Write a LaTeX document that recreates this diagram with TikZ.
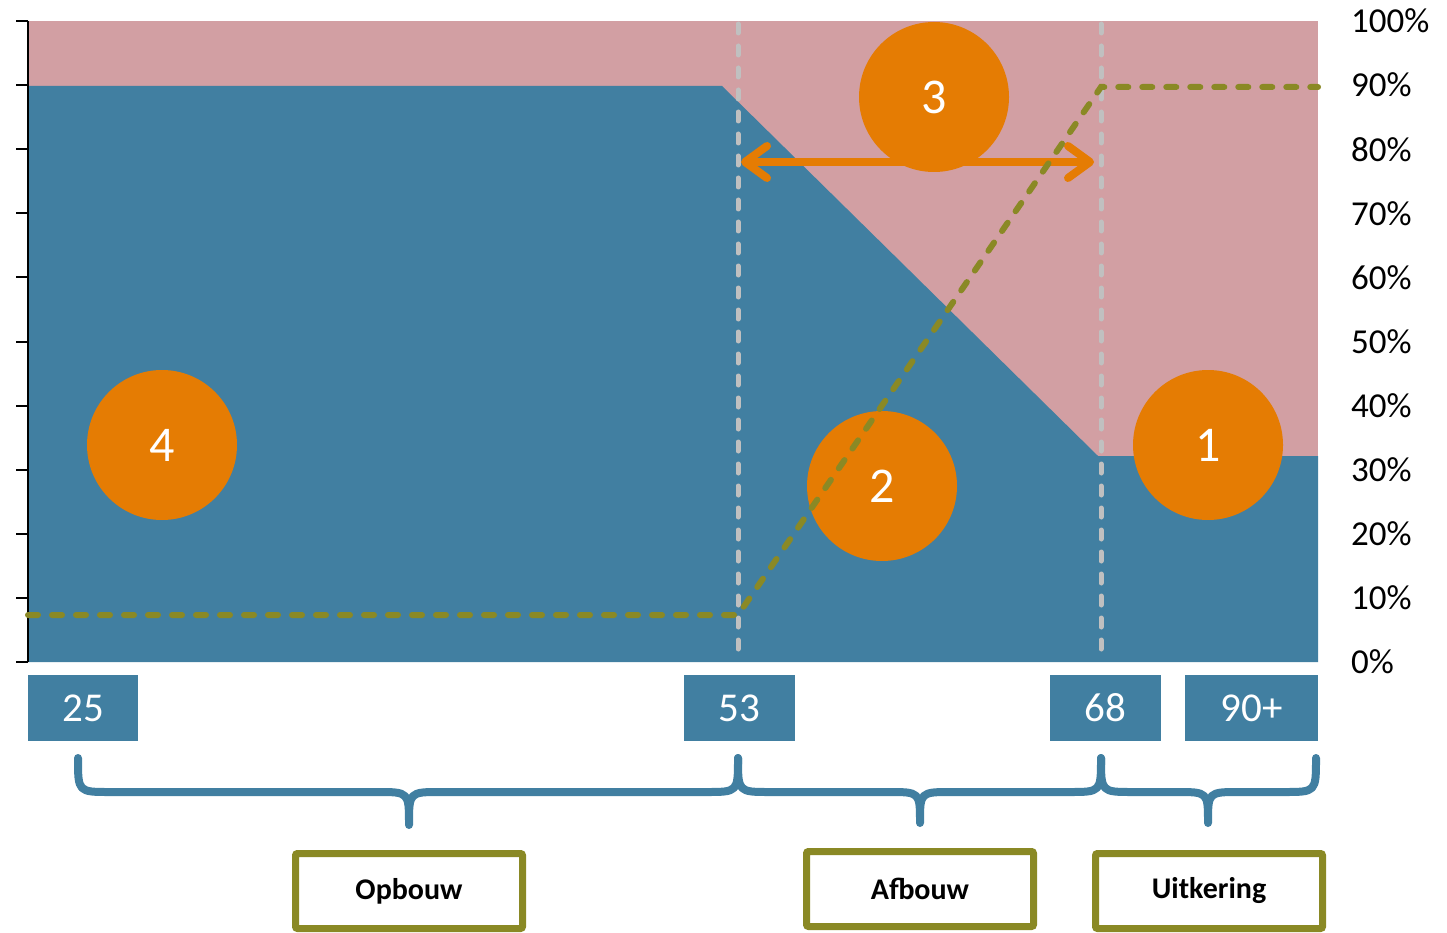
\documentclass[tikz,border=0pt]{standalone}
\usepackage{fontspec}
\setmainfont{Carlito}
\usetikzlibrary{arrows.meta}
\definecolor{blauw}{RGB}{65,127,161}
\definecolor{roze}{RGB}{210,159,163}
\definecolor{oranje}{RGB}{229,124,3}
\definecolor{olijf}{RGB}{138,137,37}
\definecolor{grijs}{RGB}{192,192,192}
\begin{document}
\begin{tikzpicture}[x=1pt, y=-1pt,
	>={Straight Barb[length=22pt, width=32pt, round]},
	bol/.style={circle, fill=oranje, minimum size=150pt, inner sep=0pt, text=white, font=\fontsize{50}{52}\selectfont},
	leeftijd/.style={fill=blauw, minimum height=66pt, inner sep=0pt, text=white, font=\fontsize{41}{44}\selectfont},
	fase/.style={draw=olijf, line width=7pt, fill=white, rounded corners=2pt, minimum width=227pt, minimum height=75pt, font=\bfseries\fontsize{30}{32}\selectfont},
	procent/.style={anchor=west, inner sep=0pt, font=\fontsize{35}{38}\selectfont},
	accolade/.style={draw=blauw, line width=8pt, line cap=round, line join=round},
	]
	\useasboundingbox (0,0) rectangle (1447,933);
	
	% Vlakken
	\fill[roze] (28,21) rectangle (1318,662);
	\fill[blauw] (28,662) -- (28,86) -- (722,86) -- (1098,456) -- (1318,456) -- (1318,662) -- cycle;
	
	% Verticale hulplijnen
	\draw[grijs, line width=5pt, line cap=round, dash pattern=on 9pt off 13pt] (738,24) -- (738,659);
	\draw[grijs, line width=5pt, line cap=round, dash pattern=on 9pt off 13pt] (1101,24) -- (1101,659);
	
	% As met procenten
	\draw[line width=2.5pt] (28,21) -- (28,662);
	\foreach \k in {0,...,10}{
		\pgfmathtruncatemacro{\pct}{10*\k}
		\draw[line width=2pt] (16,{662-64.1*\k}) -- (28,{662-64.1*\k});
		\node[procent] (pct\k) at (1351,{662-64.1*\k}) {\pct\%};
	}
	
	% Pijl tussen 53 en 68
	\coordinate (pijlL) at (741,162);
	\coordinate (pijlR) at (1094,162);
	\draw[<->, oranje, line width=8pt] (pijlL) -- (pijlR);
	
	% Cirkels
	\node[bol] (c1) at (1208,445) {1};
	\node[bol] (c2) at (882,486) {2};
	\node[bol] (c3) at (934,97) {3};
	\node[bol] (c4) at (162,445) {4};
	
	% Gestreepte lijn
	\draw[olijf, line width=6pt, line cap=round, dash pattern=on 10pt off 14pt] (28,615) -- (738,615) -- (1101,87) -- (1318,87);
	
	% Leeftijden
	\node[leeftijd, minimum width=110pt] (a25) at (83,708) {25};
	\node[leeftijd, minimum width=111pt] (a53) at (739.5,708) {53};
	\node[leeftijd, minimum width=111pt] (a68) at (1105.5,708) {68};
	\node[leeftijd, minimum width=133pt] (a90) at (1251.5,708) {90+};
	
	% Accolades
	\draw[accolade] (78,758) .. controls (78,792) .. (110,792) -- (377,792) .. controls (409,792) .. (409,825)
		.. controls (409,792) .. (441,792) -- (706,792) .. controls (738,792) .. (738,758);
	\draw[accolade] (738,758) .. controls (738,792) .. (770,792) -- (888,792) .. controls (920,792) .. (920,823)
		.. controls (920,792) .. (952,792) -- (1069,792) .. controls (1101,792) .. (1101,758);
	\draw[accolade] (1101,758) .. controls (1101,792) .. (1133,792) -- (1176,792) .. controls (1208,792) .. (1208,823)
		.. controls (1208,792) .. (1240,792) -- (1284,792) .. controls (1316,792) .. (1316,758);
	
	% Fasen
	\node[fase] (opbouw) at (409,891) {Opbouw};
	\node[fase] (afbouw) at (920,889) {Afbouw};
	\node[fase] (uitkering) at (1209,891) {Uitkering};
\end{tikzpicture}
\end{document}
